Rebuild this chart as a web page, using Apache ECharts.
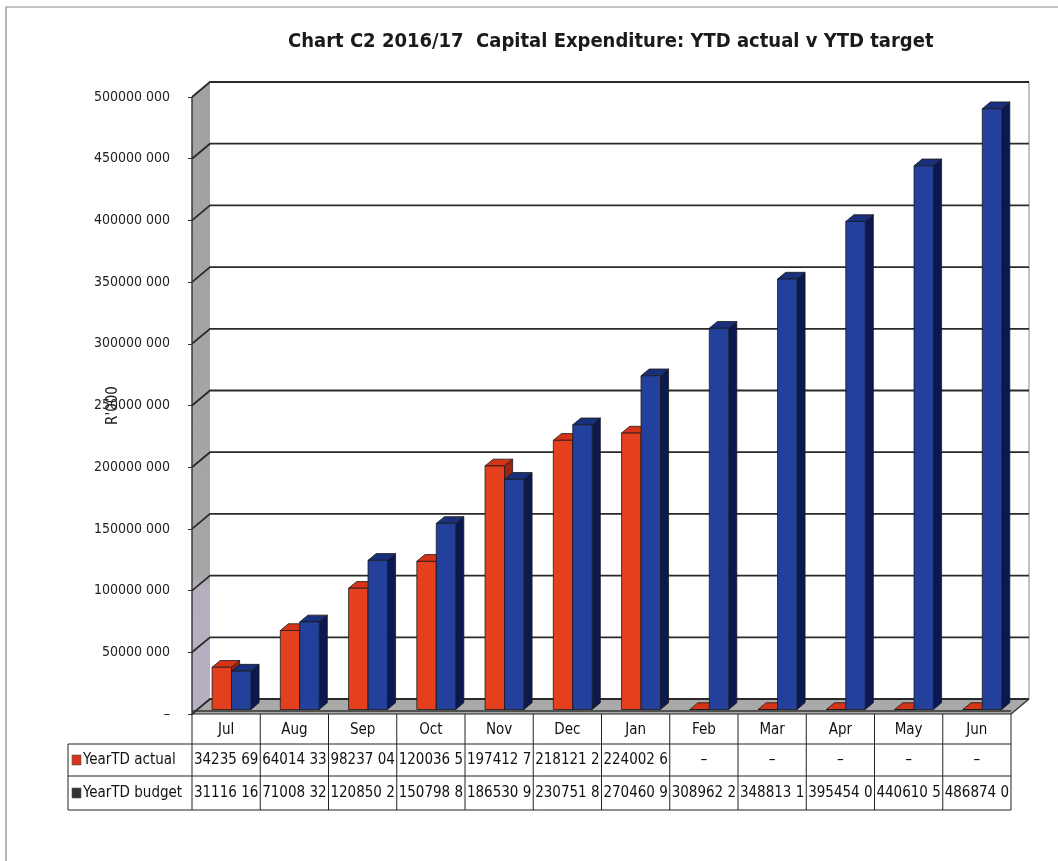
<!DOCTYPE html>
<html><head><meta charset="utf-8">
<script src="https://cdn.jsdelivr.net/npm/echarts@6/dist/echarts.min.js"></script>
<style>html,body{margin:0;padding:0;background:#fff}#c{width:1058px;height:861px}</style>
</head><body><div id="c"></div>
<script>
const months = ['Jul','Aug','Sep','Oct','Nov','Dec','Jan','Feb','Mar','Apr','May','Jun'];
const actual = [34235690, 64014330, 98237040, 120036500, 197412700, 218121200, 224002600, 0, 0, 0, 0, 0];
const budget = [31116160, 71008320, 120850200, 150798800, 186530900, 230751800, 270460900, 308962200, 348813100, 395454000, 440610500, 486874000];
const yTicks = [0, 50000000, 100000000, 150000000, 200000000, 250000000, 300000000, 350000000, 400000000, 450000000, 500000000];
const seriesNames = ['YearTD actual', 'YearTD budget'];

const FONT = "'Liberation Sans Narrow','DejaVu Sans Condensed',sans-serif";
const DX = 18, DY = -15, F1 = 0.3, F2 = 0.75;

function fmtAxis(v){ if(v===0) return '–'; return Math.floor(v/1000)+' '+String(v%1000).padStart(3,'0'); }
function fmtCell(v){ if(v===0) return '–'; return (Math.floor(v/1000)+' '+String(v%1000).padStart(3,'0')).slice(0,8); }

function barRender(side, cFront, cTop, cSide){
  return function(params, api){
    const i = api.value(0), v = api.value(1);
    const base = api.coord([i, 0]), top = api.coord([i, v]);
    const bw = api.size([1,0])[0]*0.285;
    const x0 = side < 0 ? base[0]-bw : base[0], x1 = x0 + bw;
    const ax = DX*F1, ay = DY*F1, bx = DX*F2, by = DY*F2;
    const st = {stroke:'#1a1a1a', lineWidth:0.8};
    return {type:'group', children:[
      {type:'polygon', shape:{points:[[x1+ax,top[1]+ay],[x1+bx,top[1]+by],[x1+bx,base[1]+by],[x1+ax,base[1]+ay]]}, style:Object.assign({fill:cSide},st)},
      {type:'polygon', shape:{points:[[x0+ax,top[1]+ay],[x1+ax,top[1]+ay],[x1+bx,top[1]+by],[x0+bx,top[1]+by]]}, style:Object.assign({fill:cTop},st)},
      {type:'rect', shape:{x:x0+ax, y:top[1]+ay, width:bw, height:base[1]-top[1]}, style:Object.assign({fill:cFront},st)}
    ]};
  };
}

function bgRender(params, api){
  const cs = params.coordSys;
  const L = cs.x, R = cs.x+cs.width, T = cs.y, B = cs.y+cs.height;
  const ch = [];
  ch.push({type:'polygon', shape:{points:[[L,B],[L,T],[L+DX,T+DY],[L+DX,B+DY]]},
    style:{fill:new echarts.graphic.LinearGradient(0,0,0,1,[{offset:0,color:'#a2a2a2'},{offset:0.78,color:'#a6a6a6'},{offset:0.8,color:'#b6aebe'},{offset:1,color:'#b8b0c0'}])}});
  ch.push({type:'polygon', shape:{points:[[L,B],[R,B],[R+DX,B+DY],[L+DX,B+DY]]}, style:{fill:'#a9a9a9'}});
  ch.push({type:'line', shape:{x1:R+DX,y1:T+DY,x2:R+DX,y2:B+DY}, style:{stroke:'#9a9a9a',lineWidth:1.2}});
  yTicks.forEach(t=>{
    const y = api.coord([0,t])[1];
    ch.push({type:'polyline', shape:{points:[[L,y],[L+DX,y+DY],[R+DX,y+DY]]}, style:{stroke:'#2a2a2a',lineWidth:1.8,fill:null}});
  });
  ch.push({type:'line', shape:{x1:L,y1:T,x2:L,y2:B}, style:{stroke:'#333',lineWidth:1.4}});
  ch.push({type:'line', shape:{x1:R,y1:B,x2:R+DX,y2:B+DY}, style:{stroke:'#333',lineWidth:1.4}});
  ch.push({type:'line', shape:{x1:L,y1:B-3,x2:R,y2:B-3}, style:{stroke:'#333',lineWidth:1.4}});
  // data table
  const cw = cs.width/12;
  const rows = [B, B+30, B+62, B+96];
  const TL = 68;
  const ls = {stroke:'#222', lineWidth:1};
  ch.push({type:'line', shape:{x1:L,y1:rows[0],x2:R,y2:rows[0]}, style:ls});
  [1,2,3].forEach(r=>ch.push({type:'line', shape:{x1:TL,y1:rows[r],x2:R,y2:rows[r]}, style:ls}));
  for(let k=0;k<=12;k++){ const x=L+k*cw; ch.push({type:'line', shape:{x1:x,y1:rows[0],x2:x,y2:rows[3]}, style:ls}); }
  ch.push({type:'line', shape:{x1:TL,y1:rows[1],x2:TL,y2:rows[3]}, style:ls});
  const keyCol = ['#d8361c','#333333'];
  [actual, budget].forEach((arr,r)=>{
    const yc = (rows[r+1]+rows[r+2])/2;
    ch.push({type:'rect', shape:{x:TL+4,y:yc-5,width:9,height:10}, style:{fill:keyCol[r], stroke:'#555', lineWidth:0.6}});
    ch.push({type:'text', style:{x:TL+15,y:yc,text:seriesNames[r],font:'15px '+FONT,fill:'#111',verticalAlign:'middle',align:'left'}});
    arr.forEach((v,k)=>{
      ch.push({type:'text', style:{x:L+k*cw+cw/2,y:yc,text:fmtCell(v),font:'15px '+FONT,fill:'#111',verticalAlign:'middle',align:'center'}});
    });
  });
  return {type:'group', children:ch};
}

const chart = echarts.init(document.getElementById('c'));
chart.setOption({
  animation:false,
  backgroundColor:'#fff',
  title:{text:'Chart C2 2016/17  Capital Expenditure: YTD actual v YTD target', left:283, top:27,
    textStyle:{fontFamily:FONT, fontSize:20, fontWeight:'bold', color:'#1a1a1a'}},
  graphic:[{type:'polyline', shape:{points:[[6,861],[6,7],[1058,7]]}, style:{stroke:'#888',lineWidth:1.2,fill:null}, silent:true}],
  grid:{left:192, right:47, top:97, bottom:147},
  xAxis:{type:'category', data:months, axisLine:{show:false}, axisTick:{show:false},
    axisLabel:{margin:9, fontFamily:FONT, fontSize:15, color:'#111'}},
  yAxis:{type:'value', min:0, max:500000000, interval:50000000,
    name:"R'000", nameLocation:'middle', nameRotate:90, nameGap:71, nameMoveOverlap:false,
    nameTextStyle:{fontFamily:FONT, fontSize:15, color:'#222'},
    axisLine:{show:false}, axisTick:{show:true, length:4, lineStyle:{color:'#333'}}, splitLine:{show:false},
    axisLabel:{margin:22, formatter:fmtAxis, fontFamily:FONT, fontSize:14, color:'#222'}},
  series:[
    {type:'custom', name:'bg', renderItem:bgRender, data:[[0,0]], silent:true, z:1},
    {type:'custom', name:seriesNames[0], renderItem:barRender(-1,'#e4401e','#d43418','#9c2410'), data:actual.map((v,i)=>[i,v]), encode:{x:0,y:1}, z:2},
    {type:'custom', name:seriesNames[1], renderItem:barRender(1,'#22409c','#1a307c','#0c1850'), data:budget.map((v,i)=>[i,v]), encode:{x:0,y:1}, z:3}
  ]
});
</script></body></html>
